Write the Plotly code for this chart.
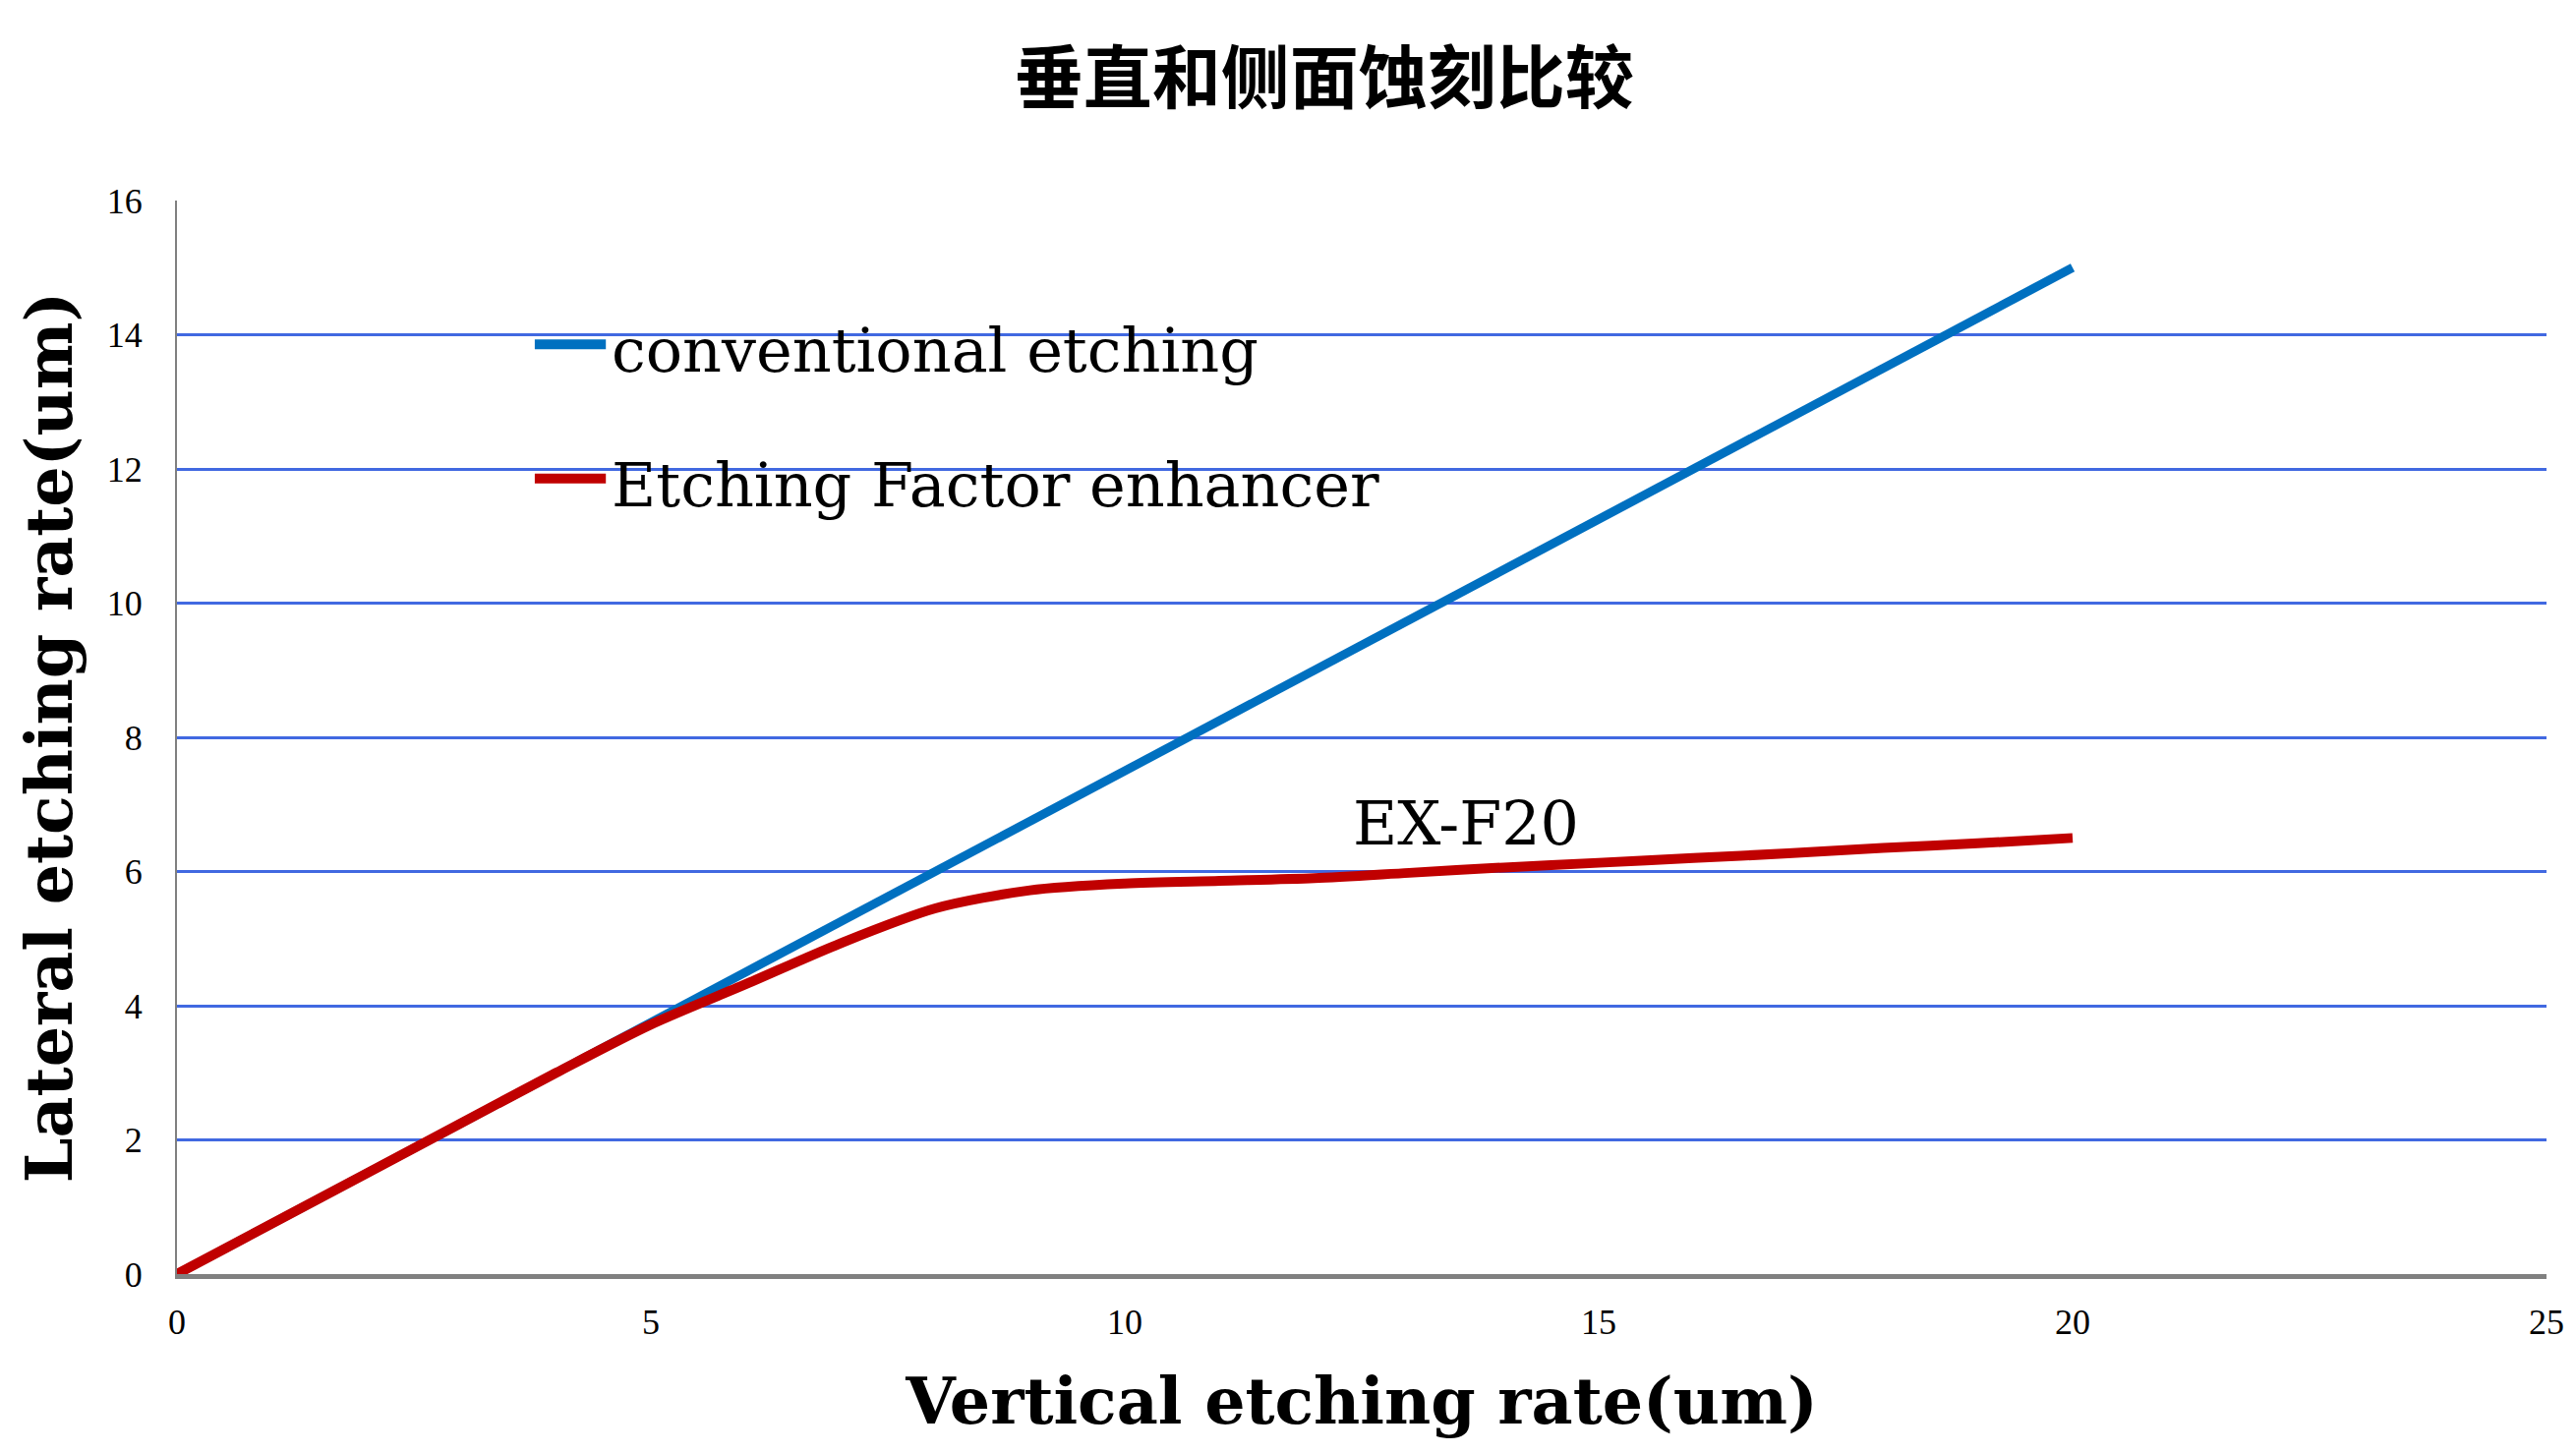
import plotly.graph_objects as go

# vertical etching (um) vs lateral etching (um)
conv_x = [0, 5, 10, 15, 20]
conv_y = [0, 3.75, 7.5, 11.25, 15]

exf_x = [0, 2, 4, 5, 6, 7, 8, 9, 10, 11, 12, 13, 14, 15, 16, 17, 18, 19, 20]
exf_y = [0, 1.5, 3.0, 3.72, 4.32, 4.93, 5.45, 5.72, 5.82, 5.86, 5.9, 5.98, 6.06, 6.13, 6.2, 6.27, 6.35, 6.42, 6.5]

series_names = ["conventional etching", "Etching Factor enhancer"]
series_colors = ["#0070C0", "#C00000"]

x_ticks = [0, 5, 10, 15, 20, 25]
y_ticks = [0, 2, 4, 6, 8, 10, 12, 14, 16]

serif = "DejaVu Serif"

fig = go.Figure()
fig.add_trace(go.Scatter(x=conv_x, y=conv_y, mode="lines", name=series_names[0],
                         line=dict(color=series_colors[0], width=9)))
fig.add_trace(go.Scatter(x=exf_x, y=exf_y, mode="lines", name=series_names[1],
                         line=dict(color=series_colors[1], width=10, shape="spline", smoothing=0.8)))

# legend drawn by hand inside the plot so the key lines are long like the original
leg_y = [0.866, 0.741]
for name, color, ly in zip(series_names, series_colors, leg_y):
    fig.add_shape(type="line", xref="paper", yref="paper",
                  x0=0.151, x1=0.181, y0=ly, y1=ly,
                  line=dict(color=color, width=10))
    fig.add_annotation(xref="paper", yref="paper", x=0.1825, y=ly - 0.006,
                       xanchor="left", yanchor="middle", text=name, showarrow=False,
                       font=dict(family=serif, size=62, color="black"))

fig.add_annotation(x=13.6, y=6.72, text="EX-F20", showarrow=False,
                   font=dict(family=serif, size=62, color="black"))

fig.update_layout(
    width=2620, height=1478,
    paper_bgcolor="white", plot_bgcolor="white",
    margin=dict(l=172, r=38, t=196, b=190),
    title=dict(text="<b>垂直和侧面蚀刻比较</b>", x=0.511, xanchor="center",
               y=1 - 72 / 1478, yanchor="middle",
               font=dict(family="Noto Sans CJK SC", size=70, color="black")),
    showlegend=False,
)

fig.update_xaxes(range=[0, 25], tickvals=x_ticks, showgrid=False, zeroline=False,
                 showline=True, linecolor="#808080", linewidth=5,
                 ticks="", ticklabelstandoff=13,
                 tickfont=dict(family="Liberation Serif", size=36, color="black"),
                 title=dict(text="<b>Vertical etching rate(um)</b>", standoff=40,
                            font=dict(family=serif, size=65, color="black")))
fig.update_yaxes(range=[0, 16], tickvals=y_ticks, showgrid=True,
                 gridcolor="#4169E1", gridwidth=3, zeroline=False,
                 showline=True, linecolor="#808080", linewidth=2,
                 ticks="", ticklabelstandoff=26,
                 tickfont=dict(family="Liberation Serif", size=36, color="black"),
                 title=dict(text="<b>Lateral etching rate(um)</b>", standoff=14,
                            font=dict(family=serif, size=65, color="black")))

fig.write_html("out.html")
